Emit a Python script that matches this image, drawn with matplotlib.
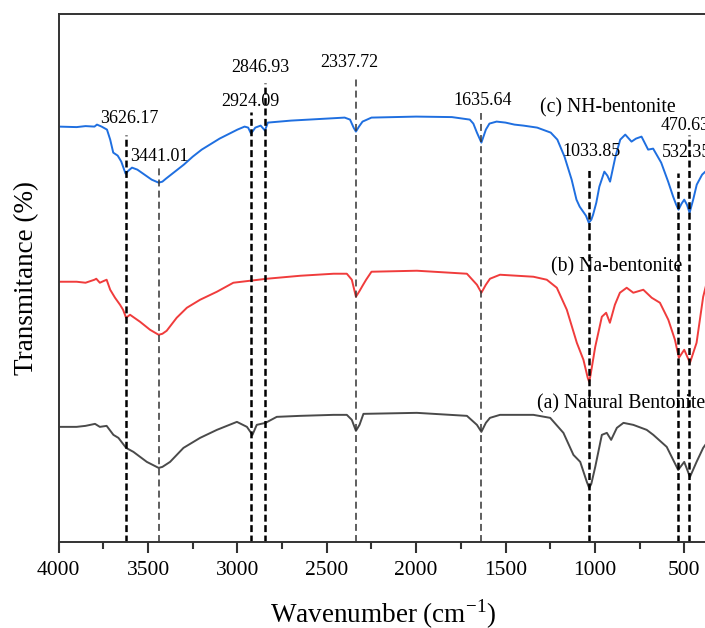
import numpy as np
import matplotlib
matplotlib.use('Agg')
import matplotlib.pyplot as plt

plt.rcParams['font.family'] = ['Liberation Serif', 'DejaVu Serif']
plt.rcParams['lines.scale_dashes'] = False

# spectra (wavenumber, stacked transmittance in a.u.)
wn_c = [4000, 3900, 3850, 3800, 3786, 3760, 3730, 3712, 3695, 3670, 3650, 3626, 3610, 3590, 3560,
        3520, 3480, 3441, 3420, 3400, 3350, 3300, 3250, 3200, 3100, 3000, 2960, 2940, 2924, 2900,
        2870, 2846, 2830, 2700, 2500, 2400, 2370, 2350, 2337, 2320, 2300, 2250, 2000, 1800, 1700,
        1680, 1660, 1635, 1610, 1590, 1550, 1500, 1450, 1400, 1323, 1247, 1210, 1170, 1130, 1103,
        1085, 1050, 1034, 1020, 1010, 992, 975, 947, 930, 915, 885, 858, 830, 795, 770, 739, 702,
        674, 629, 590, 562, 545, 532, 515, 500, 485, 470, 450, 430, 400, 370]
t_c = [415, 414.5, 415.5, 415, 417, 415, 412, 402, 389, 386, 380, 368, 371, 374, 372,
       367, 362, 359, 360, 363, 370, 377, 385, 392, 403, 412, 415, 414, 408, 414,
       416, 411, 419, 421, 423, 424, 422, 414, 410, 415, 420, 424, 425, 424.5, 422,
       418, 409, 399, 412, 418, 420, 419, 417, 416, 414, 409, 402, 385, 362, 342,
       335, 326, 319, 322, 327, 339, 355, 370, 366, 360, 385, 402, 407, 400, 403, 405, 392,
       393, 379, 360, 345, 337, 332, 338, 342, 337, 329, 342, 357, 367, 372]

wn_b = [4000, 3900, 3850, 3800, 3790, 3770, 3745, 3732, 3712, 3685, 3657, 3640, 3623, 3601, 3545,
        3489, 3441, 3420, 3396, 3340, 3283, 3209, 3115, 3023, 2929, 2835, 2647, 2462, 2388, 2360,
        2337, 2316, 2300, 2280, 2250, 1996, 1716, 1660, 1635, 1610, 1587, 1531, 1437, 1344, 1269,
        1213, 1157, 1101, 1064, 1040, 1032, 1024, 998, 961, 937, 916, 888, 860, 822, 785, 729,
        682, 636, 589, 552, 530, 500, 468, 431, 394, 370]
t_b = [260, 260, 259, 262, 263, 259, 261, 262, 252, 244, 237, 232, 224, 227, 220,
       212, 207, 208, 211, 224, 234, 242, 250, 259, 261, 263, 266, 268, 268, 262,
       245, 251, 256, 262, 270, 271, 268, 257, 249, 257, 263, 267, 266, 265, 262,
       254, 232, 199, 182, 164, 160, 167, 195, 225, 229, 219, 237, 249, 254, 249, 252,
       244, 239, 222, 202, 184, 192, 179, 199, 245, 262]

wn_a = [4000, 3900, 3850, 3797, 3770, 3732, 3694, 3666, 3623, 3582, 3507, 3441, 3420, 3377, 3302,
        3209, 3115, 3003, 2947, 2916, 2892, 2843, 2780, 2649, 2462, 2388, 2360, 2337, 2317, 2295,
        1996, 1716, 1660, 1635, 1610, 1587, 1531, 1344, 1250, 1176, 1120, 1082, 1045, 1032, 1020,
        998, 961, 933, 909, 877, 840, 785, 710, 673, 598, 534, 500, 468, 431, 394, 370]
t_a = [115, 115, 116, 118, 115, 116, 107, 104, 94, 90, 80, 74, 75, 80, 94,
       104, 112, 120, 115, 107, 117, 119, 125, 126, 127, 127, 122, 111, 117, 128,
       129, 126, 117, 110, 119, 124, 127, 127, 124, 109, 87, 80, 60, 54, 58,
       75, 107, 109, 102, 114, 119, 117, 112, 107, 95, 72, 80, 65, 80, 94, 100]

# peak markers: wavenumber, top of dashed line, label
peaks = [3626.17, 3441.01, 2924.09, 2846.93, 2337.72, 1635.64, 1033.85, 532.35, 470.63]
peak_top = [407, 374, 430, 459, 465, 429, 374, 369, 407]
peak_bold = [True, False, True, True, False, False, True, True, True]
label_x = [3606, 3438, 2926, 2870, 2376, 1627, 1020, 624, 633]
label_y = [423, 385, 440, 474, 479, 441, 390, 389, 416]
label_ha = ['center'] * 7 + ['left', 'left']

fig = plt.figure(figsize=(7.05, 6.28), dpi=100)
ax = fig.add_axes([0.0833, 0.137, 0.9202, 0.8415])

ax.plot(wn_a, t_a, color='#4a4a4a', lw=1.4)
ax.plot(wn_b, t_b, color='#f03c3c', lw=1.4)
ax.plot(wn_c, t_c, color='#1f6fe0', lw=1.4)

for w, top, bold in zip(peaks, peak_top, peak_bold):
    if bold:
        ax.vlines(w, 0, top, colors='black', lw=1.8, linestyles=(0, (5, 2.5)))
    else:
        ax.vlines(w, 0, top, colors='#333333', lw=1.1, linestyles=(0, (5, 3)))

for w, x, y, ha in zip(peaks, label_x, label_y, label_ha):
    ax.text(x, y, f'{w:.2f}', ha=ha, va='center', fontsize=13)

ax.text(925, 434, '(c) NH-bentonite', ha='center', va='center', fontsize=14.2)
ax.text(880, 275, '(b) Na-bentonite', ha='center', va='center', fontsize=14.2)
ax.text(1324, 138, '(a) Natural Bentonite', ha='left', va='center', fontsize=14.2)

ax.set_xlim(4000, 370)
ax.set_ylim(0, 528)
ax.set_xticks([4000, 3500, 3000, 2500, 2000, 1500, 1000, 500])
ax.set_xticks(np.arange(3750, 370, -500), minor=True)
ax.set_yticks([])
ax.tick_params(axis='x', which='major', direction='out', length=8, width=1.5,
               labelsize=15.5, pad=6, color='#333333')
ax.tick_params(axis='x', which='minor', direction='out', length=5, width=1.5, color='#333333')
ax.spines['right'].set_visible(False)
for s in ['left', 'bottom', 'top']:
    ax.spines[s].set_color('#333333')
    ax.spines[s].set_linewidth(1.4)

ax.set_xlabel('Wavenumber (cm$^{\\mathregular{-1}}$)', fontsize=19.5, labelpad=12)
ax.set_ylabel('Transmitance (%)', fontsize=19.5, labelpad=14)

fig.savefig('out.png', dpi=100)
